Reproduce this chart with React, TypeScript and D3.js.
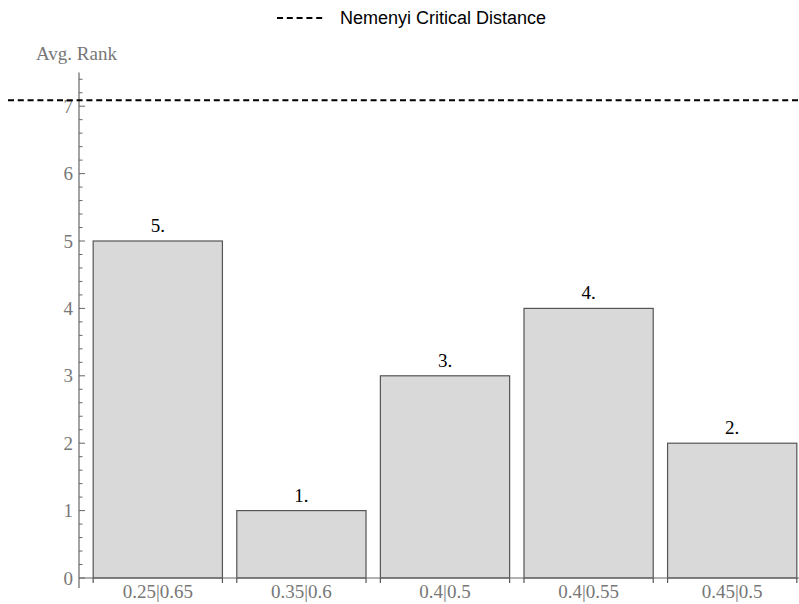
import React from "react";
import * as d3 from "d3";

const categories = ["0.25|0.65", "0.35|0.6", "0.4|0.5", "0.4|0.55", "0.45|0.5"];
const avgRanks = [5, 1, 3, 4, 2];
const rankLabels = ["5.", "1.", "3.", "4.", "2."];
const criticalDistance = 7.09;
const yMajorTicks = [0, 1, 2, 3, 4, 5, 6, 7];

const W = 799, H = 604;

export default function App() {
  const y = d3.scaleLinear().domain([0, 7.5]).range([578, 72.5]);
  const x = d3.scaleBand<string>().domain(categories).range([86, 804]).paddingInner(0.1).paddingOuter(0.05);
  const axisX = 79;
  const minor = d3.range(0, 7.41, 0.2).filter(v => Math.abs(v - Math.round(v)) > 1e-6);
  const tickColor = "#777";
  const serif = "'Liberation Serif', 'Times New Roman', serif";
  const fs = 19;
  return (
    <svg width={W} height={H} style={{ position: "absolute", left: 0, top: 0, background: "#fff" }}>
      {/* legend */}
      <line x1={277} x2={326} y1={18} y2={18} stroke="#000" strokeWidth={2} strokeDasharray="6,3.8" />
      <text x={340} y={18} dy="0.35em" fontFamily="'Liberation Sans', Arial, sans-serif" fontSize={18} fill="#000">Nemenyi Critical Distance</text>
      {/* y title */}
      <text x={36} y={53} dy="0.35em" fontFamily={serif} fontSize={fs} fill={tickColor}>Avg. Rank</text>
      {/* bars */}
      {categories.map((c, i) => (
        <g key={c}>
          <rect x={x(c)!} y={y(avgRanks[i])} width={x.bandwidth()} height={y(0) - y(avgRanks[i])} fill="#d9d9d9" stroke="#555" strokeWidth={1.2} />
          <line x1={x(c)!} x2={x(c)!} y1={y(0)} y2={y(0) + 5} stroke="#555" strokeWidth={1.2} />
          <line x1={x(c)! + x.bandwidth()} x2={x(c)! + x.bandwidth()} y1={y(0)} y2={y(0) + 5} stroke="#555" strokeWidth={1.2} />
          <text x={x(c)! + x.bandwidth() / 2} y={y(avgRanks[i]) - 9} textAnchor="middle" fontFamily={serif} fontSize={fs} fill="#000">{rankLabels[i]}</text>
          <text x={x(c)! + x.bandwidth() / 2} y={591} dy="0.35em" textAnchor="middle" fontFamily={serif} fontSize={fs} fill={tickColor}>{c}</text>
        </g>
      ))}
      {/* axes */}
      <line x1={axisX} x2={799} y1={y(0)} y2={y(0)} stroke="#666" strokeWidth={1.2} />
      <line x1={axisX} x2={axisX} y1={y(7.5)} y2={588} stroke="#666" strokeWidth={1.2} />
      {minor.map(v => (
        <line key={"m" + v} x1={axisX} x2={axisX + 3.5} y1={y(v)} y2={y(v)} stroke="#666" strokeWidth={1} />
      ))}
      {yMajorTicks.map(v => (
        <g key={"M" + v}>
          <line x1={axisX} x2={axisX + 6} y1={y(v)} y2={y(v)} stroke="#666" strokeWidth={1} />
          <text x={73} y={y(v)} dy="0.35em" textAnchor="end" fontFamily={serif} fontSize={fs} fill={tickColor}>{v}</text>
        </g>
      ))}
      {/* critical distance */}
      <line x1={8} x2={799} y1={y(criticalDistance)} y2={y(criticalDistance)} stroke="#000" strokeWidth={2} strokeDasharray="6,3.8" />
    </svg>
  );
}
